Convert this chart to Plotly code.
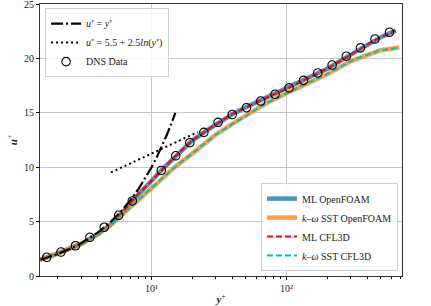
import plotly.graph_objects as go

# DNS data
yplus_dns = [1.67, 2.13, 2.73, 3.49, 4.46, 5.7, 7.2, 11.8, 15.1, 19.2, 24.4, 31.1, 39.6,
             50.5, 64.4, 82.2, 104.5, 133.7, 170.6, 217.8, 277.3, 353.2, 452.9, 579.4]
u_dns = [1.72, 2.2, 2.78, 3.56, 4.48, 5.58, 6.9, 9.7, 11.05, 12.25, 13.2, 14.12, 14.84,
         15.47, 16.08, 16.7, 17.3, 17.98, 18.66, 19.39, 20.2, 20.97, 21.78, 22.4]

# ML model (OpenFOAM and CFL3D overlap)
yplus_ml = [1.49, 2, 3, 4, 5, 6, 7, 8, 10, 12, 15, 20, 25, 30, 40, 50, 70, 100, 150, 200,
            300, 400, 500, 645]
u_ml_of = [1.5, 2.05, 2.95, 3.85, 4.75, 5.75, 6.75, 7.55, 8.75, 9.8, 11.0, 12.45, 13.3, 13.95,
           14.9, 15.5, 16.35, 17.2, 18.3, 19.05, 20.35, 21.3, 21.95, 22.55]
u_ml_cfl = [1.5, 2.05, 2.95, 3.85, 4.75, 5.75, 6.75, 7.55, 8.75, 9.8, 11.0, 12.45, 13.3, 13.95,
            14.9, 15.5, 16.35, 17.2, 18.3, 19.05, 20.35, 21.3, 21.95, 22.55]

# k-omega SST
yplus_sst = [1.49, 2, 3, 4, 5, 6, 7, 8, 10, 12, 15, 20, 25, 30, 40, 50, 70, 100, 150, 200,
             300, 400, 500, 686]
u_sst_of = [1.5, 2.05, 2.95, 3.85, 4.72, 5.6, 6.35, 6.95, 8.06, 8.9, 10.05, 11.25, 12.25, 13.0,
            14.0, 14.7, 15.85, 16.8, 17.85, 18.55, 19.75, 20.35, 20.75, 21.0]
u_sst_cfl = [1.5, 2.05, 2.95, 3.85, 4.72, 5.6, 6.35, 6.95, 8.06, 8.9, 10.05, 11.25, 12.25, 13.0,
             14.0, 14.7, 15.85, 16.8, 17.85, 18.55, 19.75, 20.35, 20.75, 21.0]

# reference laws
yplus_lin = [1.5, 2, 2.5, 3, 4, 5, 6, 7, 8, 9, 10, 11, 12, 13, 14, 15]
u_lin = [1.5, 2, 2.5, 3, 4, 5, 6, 7, 8, 9, 10, 11, 12, 13, 14, 15]
yplus_log = [5, 22]
u_log = [9.52, 13.23]

# ticks
y_ticks = [0, 5, 10, 15, 20, 25]
x_tickvals = [10, 100]
x_ticktext = ["10¹", "10²"]

FONT = "Liberation Serif"

fig = go.Figure()

fig.add_trace(go.Scatter(x=yplus_log, y=u_log, mode="lines",
                         line=dict(color="black", width=2, dash="2px,3px"),
                         name="<i>u</i>⁺ = 5.5 + 2.5<i>ln</i>(<i>y</i>⁺)",
                         legend="legend", legendrank=2))
fig.add_trace(go.Scatter(x=yplus_ml, y=u_ml_of, mode="lines",
                         line=dict(color="rgba(31,119,180,0.8)", width=4.5),
                         name="ML OpenFOAM", legend="legend2", legendrank=1))
fig.add_trace(go.Scatter(x=yplus_sst, y=u_sst_of, mode="lines",
                         line=dict(color="rgba(255,127,14,0.75)", width=4.5),
                         name="<i>k</i>–<i>ω</i> SST OpenFOAM", legend="legend2", legendrank=2))
fig.add_trace(go.Scatter(x=yplus_ml, y=u_ml_cfl, mode="lines",
                         line=dict(color="#ff0000", width=2, dash="6px,3px"),
                         name="ML CFL3D", legend="legend2", legendrank=3))
fig.add_trace(go.Scatter(x=yplus_sst, y=u_sst_cfl, mode="lines",
                         line=dict(color="#00bfbf", width=2, dash="6px,3px"),
                         name="<i>k</i>–<i>ω</i> SST CFL3D", legend="legend2", legendrank=4))
fig.add_trace(go.Scatter(x=yplus_lin, y=u_lin, mode="lines",
                         line=dict(color="black", width=2.2, dash="12px,3px,2px,3px"),
                         name="<i>u</i>⁺ = <i>y</i>⁺",
                         legend="legend", legendrank=1))
fig.add_trace(go.Scatter(x=yplus_dns, y=u_dns, mode="markers",
                         marker=dict(symbol="circle-open", size=8.5, color="black",
                                     line=dict(width=1.1, color="black")),
                         name="DNS Data", legend="legend", legendrank=3))

fig.update_layout(
    width=431, height=306,
    margin=dict(l=40, r=29, t=4, b=30, autoexpand=False),
    plot_bgcolor="white", paper_bgcolor="white",
    font=dict(family=FONT, size=10, color="#222"),
    legend=dict(x=0.014, y=0.985, xanchor="left", yanchor="top",
                bgcolor="rgba(255,255,255,0.85)", bordercolor="#d0d0d0", borderwidth=1,
                font=dict(family=FONT, size=10), itemwidth=30, tracegroupgap=0,
                traceorder="normal"),
    legend2=dict(x=0.989, y=0.018, xanchor="right", yanchor="bottom",
                 bgcolor="rgba(255,255,255,0.85)", bordercolor="#d0d0d0", borderwidth=1,
                 font=dict(family=FONT, size=10), itemwidth=30, tracegroupgap=0,
                 traceorder="normal"),
    showlegend=True,
)

fig.update_xaxes(type="log", range=[0.173, 2.856],
                 tickmode="array", tickvals=x_tickvals, ticktext=x_ticktext,
                 showgrid=True, gridcolor="#c8c8c8", gridwidth=1,
                 ticks="outside", ticklen=3, tickcolor="black",
                 minor=dict(ticks="outside", ticklen=2, tickcolor="black", showgrid=False,
                            dtick="D1"),
                 showline=True, linecolor="#333", linewidth=1.2, mirror=True,
                 zeroline=False, tickfont=dict(family=FONT, size=10),
                 automargin=False, ticklabeloverflow="allow",
                 title=dict(text="<b><i>y</i></b><sup>+</sup>", standoff=2,
                            font=dict(family=FONT, size=11)))
fig.update_yaxes(range=[0, 25], tickvals=y_ticks,
                 showgrid=True, gridcolor="#c8c8c8", gridwidth=1,
                 ticks="outside", ticklen=3, tickcolor="black",
                 showline=True, linecolor="#333", linewidth=1.2, mirror=True,
                 zeroline=False, tickfont=dict(family=FONT, size=10),
                 automargin=False, ticklabeloverflow="allow",
                 title=dict(text="<b><i>u</i></b><sup>+</sup>", standoff=4,
                            font=dict(family=FONT, size=11)))

fig.write_html("out.html", config={"displayModeBar": False},
               post_script="document.body.style.margin='0';document.body.style.overflow='hidden';")
